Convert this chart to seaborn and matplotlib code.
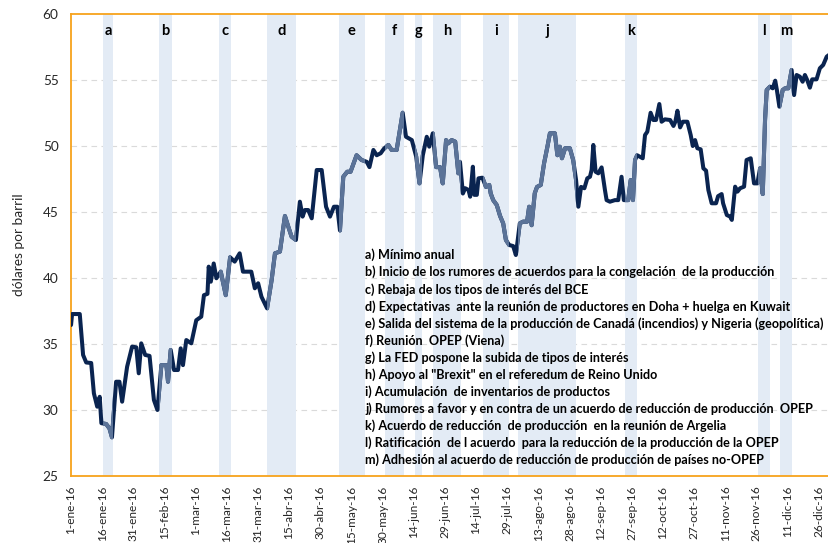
import numpy as np
import pandas as pd
import matplotlib
matplotlib.use("Agg")
import matplotlib.pyplot as plt
from matplotlib.patches import Rectangle
import seaborn as sns

# ---------------- data ----------------
day_offsets = [
    0, 0.5, 4.2, 5.8, 7.3, 9.7, 11.0, 12.6, 13.8, 14.6, 16.9, 18.5, 19.7, 21.7, 23.3, 24.6,
    27.0, 29.4, 31.4, 32.6, 33.8, 35.7, 37.8, 39.9, 41.6, 43.5, 45.9, 46.7, 48.0, 49.6, 51.5,
    52.8, 53.9, 55.5, 57.9, 60.3, 62.7, 64.0, 65.7, 66.3, 67.3, 68.7, 70.0, 72.1, 74.5, 76.6,
    78.8, 81.2, 82.8, 86.8, 88.5, 90.1, 91.7, 94.4, 96.6, 98.2, 100.6, 103.0, 104.6, 106.2,
    108.3, 110.2, 111.5, 112.6, 114.2, 115.9, 118.3, 120.7, 122.8, 124.7, 126.6, 128.2, 129.5,
    131.1, 133.0, 134.6, 137.5, 139.9, 142.4, 143.7, 145.6, 147.2, 149.1, 150.7, 152.8, 154.4,
    156.8, 159.7, 161.3, 164.1, 166.2, 167.8, 169.4, 171.3, 172.5, 174.2, 175.8, 177.7, 179.0,
    180.6, 181.7, 183.3, 185.0, 186.5, 187.3, 188.7, 189.8, 191.4, 192.2, 193.5, 194.2, 195.4,
    196.2, 198.1, 199.8, 201.4, 202.1, 203.3, 205.0, 206.6, 208.1, 209.4, 211.0, 212.9, 214.2,
    216.1, 217.7, 219.6, 220.6, 221.8, 223.3, 224.4, 226.2, 227.8, 229.4, 230.6, 233.0, 234.2,
    235.4, 236.4, 237.9, 240.2, 241.8, 243.2, 244.3, 245.6, 247.2, 248.6, 249.9, 250.7, 251.5,
    252.6, 253.9, 255.5, 257.1, 257.9, 259.5, 261.9, 263.5, 265.1, 266.2, 268.3, 269.5, 270.6,
    271.6, 272.6, 275.3, 276.4, 277.5, 279.1, 280.4, 281.7, 283.3, 284.4, 286.0, 288.5, 290.1,
    291.0, 292.0, 293.3, 294.6, 296.8, 298.4, 299.4, 300.5, 301.6, 303.2, 304.5, 305.8, 306.9,
    308.5, 310.6, 311.6, 313.3, 314.0, 315.8, 317.4, 318.2, 319.8, 320.9, 322.2, 324.1, 325.3,
    327.3, 328.9, 330.5, 331.8, 333.1, 334.2, 335.0, 336.6, 337.9, 339.1, 339.9, 341.1, 342.7,
    343.8, 345.4, 347.0, 348.2, 349.4, 351.0, 352.3, 353.4, 354.5, 355.8, 356.9, 359.0, 360.6,
    362.2, 363.9, 365.0,
]
brent_usd = [
    36.44, 37.27, 37.27, 34.17, 33.6, 33.56, 31.26, 30.25, 31.0, 29.0, 28.94, 28.6, 27.93, 32.14, 32.14, 30.63,
    33.28, 34.8, 34.75, 32.78, 35.05, 34.17, 34.1, 30.76, 30.0, 33.4, 33.4, 32.14, 34.55, 33.03, 33.03,
    34.67, 33.4, 35.3, 35.05, 36.8, 37.07, 38.7, 38.8, 40.86, 39.72, 41.1, 39.98, 40.48, 38.7, 41.57,
    41.24, 41.87, 40.48, 40.48, 39.22, 39.6, 38.58, 37.7, 39.85, 41.87, 42.0, 44.7, 43.9, 43.13,
    42.88, 45.78, 44.65, 45.15, 45.15, 44.52, 48.18, 48.18, 45.4, 44.65, 45.4, 45.4, 43.6,
    47.67, 48.05, 48.05, 49.3, 48.94, 48.8, 48.4, 49.7, 49.3, 49.45, 49.8, 50.08, 49.7,
    49.7, 52.52, 50.7, 50.45, 49.2, 47.17, 49.3, 50.7, 49.95, 50.96, 48.4, 48.4, 47.17,
    50.45, 50.2, 50.45, 50.33, 47.93, 48.8, 46.4, 46.8, 46.67, 46.16, 48.43, 46.3, 46.3,
    47.55, 47.6, 46.9, 47.05, 46.4, 45.9, 45.53, 44.7, 44.14, 42.88, 42.5, 42.42, 41.74,
    44.14, 44.27, 44.27, 45.4, 44.0, 46.42, 46.9, 47.05, 48.7, 49.95, 50.96, 50.96, 49.3,
    49.95, 49.07, 49.83, 49.83, 48.94, 47.42, 45.4, 46.9, 46.8, 47.55, 47.67, 48.2, 50.08,
    48.05, 47.93, 48.38, 46.67, 45.9, 45.78, 45.9, 45.9, 47.67, 45.9, 45.9, 47.42, 45.9,
    48.94, 49.3, 49.07, 50.83, 51.08, 52.52, 51.97, 51.97, 53.18, 51.84, 52.02, 51.97, 51.52,
    51.84, 52.67, 51.41, 51.84, 51.84, 50.83, 50.0, 50.45, 49.83, 49.75, 48.31, 48.13, 46.67,
    45.66, 45.66, 46.2, 46.36, 45.66, 44.77, 44.65, 44.4, 46.92, 46.54, 46.8, 46.92, 48.94,
    49.07, 47.17, 47.17, 48.31, 46.36, 51.97, 54.24, 54.5, 54.37, 54.95, 54.24, 52.98, 54.24,
    54.37, 54.37, 55.76, 53.86, 55.38, 55.25, 54.87, 55.38, 55.0, 54.42, 55.05, 55.05, 55.89,
    56.14, 56.77, 56.9,
]

event_letters = ["a", "b", "c", "d", "e", "f", "g", "h", "i", "j", "k", "l", "m"]
event_start = [15.6, 42.4, 71.3, 94.4, 129.0, 151.2, 165.6, 174.3, 198.4, 215.2, 266.7, 330.8, 341.4]
event_end = [20.1, 48.6, 77.0, 108.3, 141.5, 160.3, 169.0, 187.8, 210.9, 243.1, 272.5, 336.6, 347.2]
event_texts = [
    "a) Mínimo anual",
    "b) Inicio de los rumores de acuerdos para la congelación  de la producción",
    "c) Rebaja de los tipos de interés del BCE",
    "d) Expectativas  ante la reunión de productores en Doha + huelga en Kuwait",
    "e) Salida del sistema de la producción de Canadá (incendios) y Nigeria (geopolítica)",
    "f) Reunión  OPEP (Viena)",
    "g) La FED pospone la subida de tipos de interés",
    "h) Apoyo al \"Brexit\" en el referedum de Reino Unido",
    "i) Acumulación  de inventarios de productos",
    "j) Rumores a favor y en contra de un acuerdo de reducción de producción  OPEP",
    "k) Acuerdo de reducción  de producción  en la reunión de Argelia",
    "l) Ratificación  de l acuerdo  para la reducción de la producción de la OPEP",
    "m) Adhesión al acuerdo de reducción de producción de países no-OPEP",
]

tick_days = list(range(0, 361, 15))
tick_labels = [
    "1-ene-16", "16-ene-16", "31-ene-16", "15-feb-16", "1-mar-16", "16-mar-16", "31-mar-16",
    "15-abr-16", "30-abr-16", "15-may-16", "30-may-16", "14-jun-16", "29-jun-16", "14-jul-16",
    "29-jul-16", "13-ago-16", "28-ago-16", "12-sep-16", "27-sep-16", "12-oct-16", "27-oct-16",
    "11-nov-16", "26-nov-16", "11-dic-16", "26-dic-16",
]
y_ticks = [25, 30, 35, 40, 45, 50, 55, 60]

# ---------------- style ----------------
sns.set_theme(style="white")
plt.rcParams["font.family"] = ["Lato", "DejaVu Sans"]

NAVY = "#0A2450"
LIGHT = "#5B7398"
BAND = "#E3EBF5"
ORANGE = "#F7A21B"
TXT = "#262626"

df = pd.DataFrame({"day": day_offsets, "price": brent_usd})

fig = plt.figure(figsize=(8.29, 5.43), dpi=100)
ax = fig.add_axes([0.0857, 0.1234, 0.9143, 0.8508])
ax.set_xlim(0, 365)
ax.set_ylim(25, 60)

# grid
for yv in y_ticks[1:-1]:
    ax.axhline(yv, color="#DADADA", lw=0.8, ls=(0, (5, 4)), zorder=0)

# event bands
for s, e, lab in zip(event_start, event_end, event_letters):
    ax.axvspan(s, e, color=BAND, lw=0, zorder=1)
    ax.text((s + e) / 2, 58.75, lab, ha="center", va="center", fontsize=10.5,
            fontweight="bold", color="black", zorder=5)

# main line
sns.lineplot(data=df, x="day", y="price", ax=ax, color=NAVY, lw=2.9,
             solid_joinstyle="round", solid_capstyle="round", zorder=3, legend=False)

# lighter segments within bands
for s, e in zip(event_start, event_end):
    sns.lineplot(data=df, x="day", y="price", ax=ax, color=LIGHT, lw=2.9,
                 solid_joinstyle="round", solid_capstyle="butt", zorder=4, legend=False)
    ln = ax.lines[-1]
    clip = Rectangle((s, 25), e - s, 35, transform=ax.transData)
    ln.set_clip_path(clip)

# annotation text block
y0 = (476 - 255) / 462.0
dy = 17.08 / 462.0
x0 = (365 - 71) / 758.0
for i, t in enumerate(event_texts):
    ax.text(x0, y0 - i * dy, t, transform=ax.transAxes, ha="left", va="center",
            fontsize=9.1, fontweight="bold", color="black", zorder=6, clip_on=False)

# axes styling
for side in ["left", "top", "bottom"]:
    ax.spines[side].set_visible(True)
    ax.spines[side].set_color(ORANGE)
    ax.spines[side].set_linewidth(1.3)
ax.spines["right"].set_visible(False)

ax.set_xticks(tick_days)
ax.set_xticklabels(tick_labels, rotation=90, fontsize=8.6, color=TXT)
ax.set_yticks(y_ticks)
ax.set_yticklabels([str(v) for v in y_ticks], fontsize=9.8, color=TXT)
ax.tick_params(axis="x", direction="out", length=5, width=1.2, color=ORANGE, pad=2)
ax.tick_params(axis="y", direction="out", length=3, width=1.2, color=ORANGE, pad=6)
ax.set_xlabel("")
ax.set_ylabel("dólares por barril", fontsize=9.8, color=TXT, labelpad=13)
ax.grid(False)

fig.savefig("out.png", dpi=100)
